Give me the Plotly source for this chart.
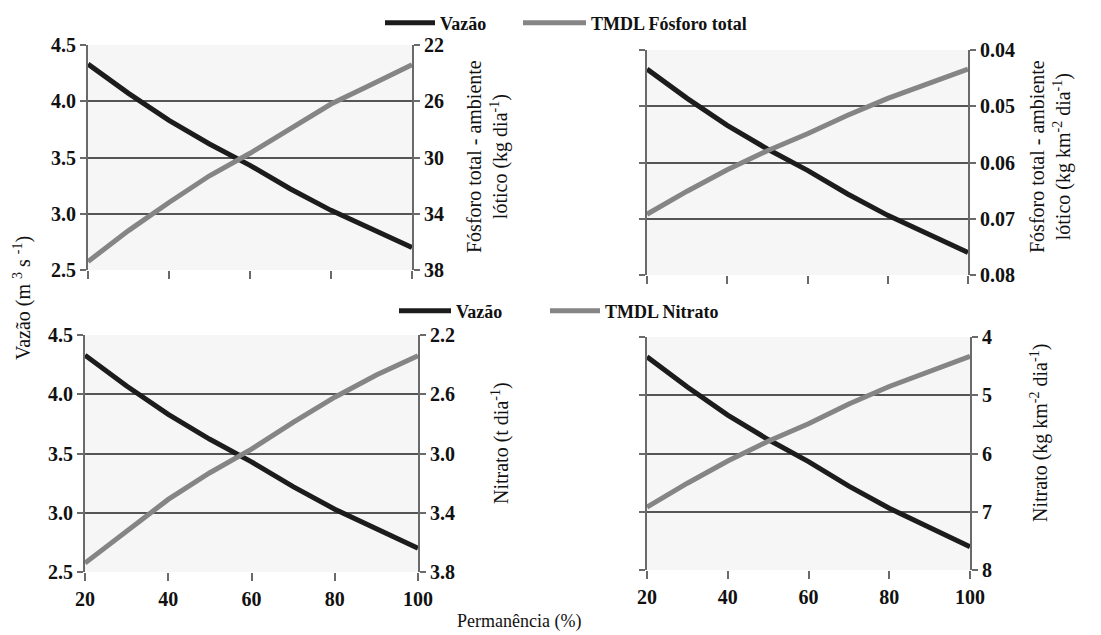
import plotly.graph_objects as go

# ---- data ----
permanencia = [20, 30, 40, 50, 60, 70, 80, 90, 100]
vazao = [4.33, 4.07, 3.83, 3.62, 3.43, 3.22, 3.03, 2.86, 2.70]
tmdl_p_kgdia = [37.4, 35.2, 33.2, 31.3, 29.7, 27.9, 26.2, 24.8, 23.4]
tmdl_p_kgkm2 = [0.0692, 0.0651, 0.0613, 0.0579, 0.0549, 0.0516, 0.0486, 0.0459, 0.0434]
tmdl_n_tdia = [3.74, 3.52, 3.31, 3.13, 2.97, 2.79, 2.62, 2.47, 2.34]
tmdl_n_kgkm2 = [6.92, 6.51, 6.13, 5.79, 5.49, 5.15, 4.85, 4.58, 4.33]

x_ticks = [20, 40, 60, 80, 100]
vazao_ticks = [2.5, 3.0, 3.5, 4.0, 4.5]
p_kgdia_ticks = [22, 26, 30, 34, 38]
p_kgkm2_ticks = [0.04, 0.05, 0.06, 0.07, 0.08]
n_tdia_ticks = [2.2, 2.6, 3.0, 3.4, 3.8]
n_kgkm2_ticks = [4, 5, 6, 7, 8]

W, H = 1101, 635
OFF = 8  # page body margin offset
BLACK = "#1c1c1c"
GREY = "#858585"
AX = "#6a6a6a"
GRID = "#555555"
FONT = "'Liberation Serif', 'Times New Roman', 'DejaVu Serif', serif"


def fx(px):
    return (px - OFF) / W


def fy(py):
    return 1 - (py - OFF) / H


def px_dom(a, b):
    return [fx(a), fx(b)]


def py_dom(top, bottom):
    return [fy(bottom), fy(top)]


panels = [
    # (xdomain px, ydomain px, right data, right ticks, fmt, legends, showx, showleft)
    ((88, 412), (45, 270), tmdl_p_kgdia, p_kgdia_ticks, "d", ("legend", "legend2"), False, True),
    ((647, 968), (50, 275), tmdl_p_kgkm2, p_kgkm2_ticks, ".2f", ("legend", "legend2"), False, False),
    ((85, 418), (335, 572), tmdl_n_tdia, n_tdia_ticks, ".1f", ("legend3", "legend4"), True, True),
    ((647, 970), (337, 570), tmdl_n_kgkm2, n_kgkm2_ticks, "d", ("legend3", "legend4"), True, False),
]
tmdl_names = ["TMDL Fósforo total", "TMDL Fósforo total", "TMDL Nitrato", "TMDL Nitrato"]

fig = go.Figure()
layout = {}
tickfont = dict(family=FONT, size=20, color="#111111", weight="bold")

for i, (xd, yd, rdata, rticks, fmt, legs, showx, showleft) in enumerate(panels):
    n = i + 1
    xa = "x" if n == 1 else f"x{n}"
    yl_idx = 2 * n - 1
    yr_idx = 2 * n
    yl = "y" if yl_idx == 1 else f"y{yl_idx}"
    yr = f"y{yr_idx}"
    first_in_legend = n in (1, 3)

    fig.add_trace(go.Scatter(
        x=permanencia, y=vazao, xaxis=xa, yaxis=yl, mode="lines",
        line=dict(color=BLACK, width=5), name="Vazão",
        showlegend=first_in_legend, legend=legs[0]))
    fig.add_trace(go.Scatter(
        x=permanencia, y=rdata, xaxis=xa, yaxis=yr, mode="lines",
        line=dict(color=GREY, width=5), name=tmdl_names[i],
        showlegend=first_in_legend, legend=legs[1]))

    xkey = "xaxis" if n == 1 else f"xaxis{n}"
    ylkey = "yaxis" if yl_idx == 1 else f"yaxis{yl_idx}"
    yrkey = f"yaxis{yr_idx}"

    layout[xkey] = dict(
        domain=px_dom(*xd), anchor=yl, range=[20, 100], tickvals=x_ticks,
        showticklabels=showx, ticks="outside", ticklen=8, tickwidth=2,
        tickcolor=AX, showgrid=False, zeroline=False, showline=False,
        tickfont=tickfont, automargin=False, ticklabelstandoff=1)
    layout[ylkey] = dict(
        domain=py_dom(*yd), anchor=xa, range=[2.5, 4.5], tickvals=vazao_ticks,
        tickformat=".1f", showticklabels=showleft, ticks="outside", ticklen=6,
        tickwidth=2, tickcolor=AX, showgrid=True, gridcolor=GRID, gridwidth=1.5,
        zeroline=False, showline=True, linecolor=AX, linewidth=2,
        tickfont=tickfont, automargin=False)
    layout[yrkey] = dict(
        overlaying=yl, side="right", anchor=xa,
        range=[rticks[-1], rticks[0]], tickvals=rticks, tickformat=fmt,
        ticks="outside", ticklen=6, tickwidth=2, tickcolor=AX,
        showgrid=False, zeroline=False, showline=True, linecolor=AX,
        linewidth=2, tickfont=tickfont, automargin=False)

legfont = dict(family=FONT, size=18, color="#111111", weight="bold")
leg_common = dict(orientation="h", xanchor="left", yanchor="middle",
                  font=legfont, bgcolor="rgba(0,0,0,0)", tracegroupgap=0)
layout["legend"] = dict(x=fx(380), y=fy(23), itemwidth=50, **leg_common)
layout["legend2"] = dict(x=fx(518), y=fy(23), itemwidth=63, **leg_common)
layout["legend3"] = dict(x=fx(394), y=fy(311), itemwidth=52, **leg_common)
layout["legend4"] = dict(x=fx(545), y=fy(311), itemwidth=50, **leg_common)

title_font = dict(family=FONT, size=20, color="#111111")
annotations = [
    dict(text="Vazão (m <sup>3</sup> s <sup>-1</sup>)", x=fx(22), y=fy(298),
         textangle=-90),
    dict(text="Permanência (%)", x=fx(519), y=fy(621), textangle=0,
         font=dict(family=FONT, size=18, color="#111111")),
    dict(text="Fósforo total - ambiente<br>lótico (kg dia<sup>-1</sup>)",
         x=fx(487), y=fy(157), textangle=-90),
    dict(text="Fósforo total - ambiente<br>lótico (kg km<sup>-2</sup> dia<sup>-1</sup>)",
         x=fx(1050), y=fy(157), textangle=-90),
    dict(text="Nitrato (t dia<sup>-1</sup>)", x=fx(500), y=fy(443),
         textangle=-90),
    dict(text="Nitrato (kg km<sup>-2</sup> dia<sup>-1</sup>)", x=fx(1039),
         y=fy(433), textangle=-90),
]
for a in annotations:
    a.setdefault("font", title_font)
    a.update(xref="paper", yref="paper", showarrow=False, xanchor="center",
             yanchor="middle")

fig.update_layout(
    **layout,
    annotations=annotations,
    width=W, height=H,
    margin=dict(l=0, r=0, t=0, b=0, autoexpand=False),
    paper_bgcolor="white",
    plot_bgcolor="#f6f6f6",
    font=dict(family=FONT, color="#111111"),
)

fig.write_html("out.html")
